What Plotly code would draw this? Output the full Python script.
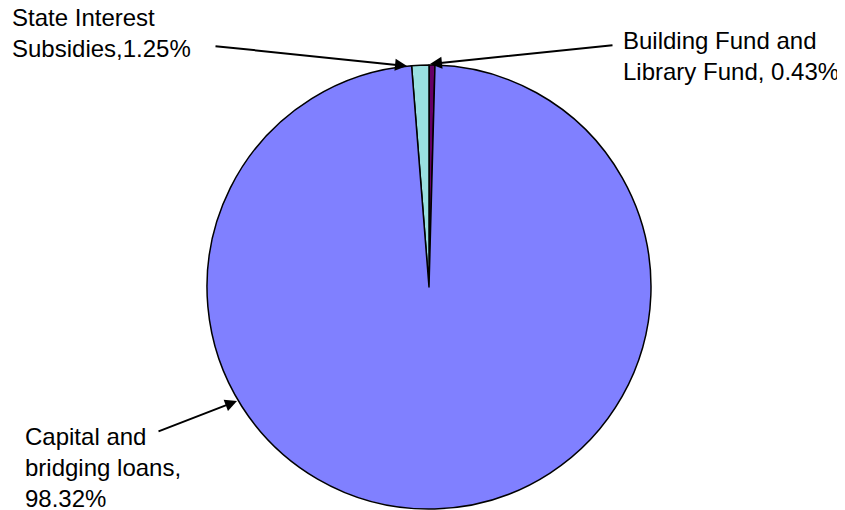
import plotly.graph_objects as go

labels = ["Building Fund and Library Fund", "State Interest Subsidies", "Capital and bridging loans"]
values = [0.43, 1.25, 98.32]
colors = ["#660066", "#99E0E0", "#8080FF"]

OFF = 8  # page body margin
W, H = 845 - OFF, 510 - OFF
cx, cy, r = 429 - OFF, 287 - OFF, 222

fig = go.Figure(go.Pie(
    labels=labels, values=values, sort=False, direction="counterclockwise", rotation=0,
    marker=dict(colors=colors, line=dict(color="black", width=1.5)),
    textinfo="none", showlegend=False,
    domain=dict(x=[(cx - r) / W, (cx + r) / W], y=[1 - (cy + r) / H, 1 - (cy - r) / H]),
))

font = dict(family="Liberation Sans, Arial, sans-serif", size=24, color="black")

def px(x, y):
    return (x - OFF) / W, 1 - (y - OFF) / H

text_lines = [
    ("State Interest", 10, 18), ("Subsidies,1.25%", 10, 48),
    ("Building Fund and", 621, 41), ("Library Fund, 0.43%", 621, 71),
    ("Capital and", 23, 436), ("bridging loans,", 23, 467), ("98.32%", 23, 498),
]
for t, x, y in text_lines:
    xp, yp = px(x, y)
    fig.add_annotation(text=t, x=xp, y=yp, xref="paper", yref="paper",
                       xanchor="left", yanchor="middle", showarrow=False, font=font)

arrows = [((407, 66), (214, 46)), ((430, 64), (614, 45)), ((237, 401), (157, 432))]
for (hx, hy), (tx, ty) in arrows:
    xp, yp = px(hx, hy)
    fig.add_annotation(text="", x=xp, y=yp, xref="paper", yref="paper",
                       ax=tx - hx, ay=ty - hy, showarrow=True,
                       arrowhead=2, arrowsize=1.2, arrowwidth=2, arrowcolor="black")

fig.update_layout(width=W, height=H, margin=dict(l=0, r=0, t=0, b=0),
                  paper_bgcolor="white", plot_bgcolor="white")
fig.write_html("out.html")
